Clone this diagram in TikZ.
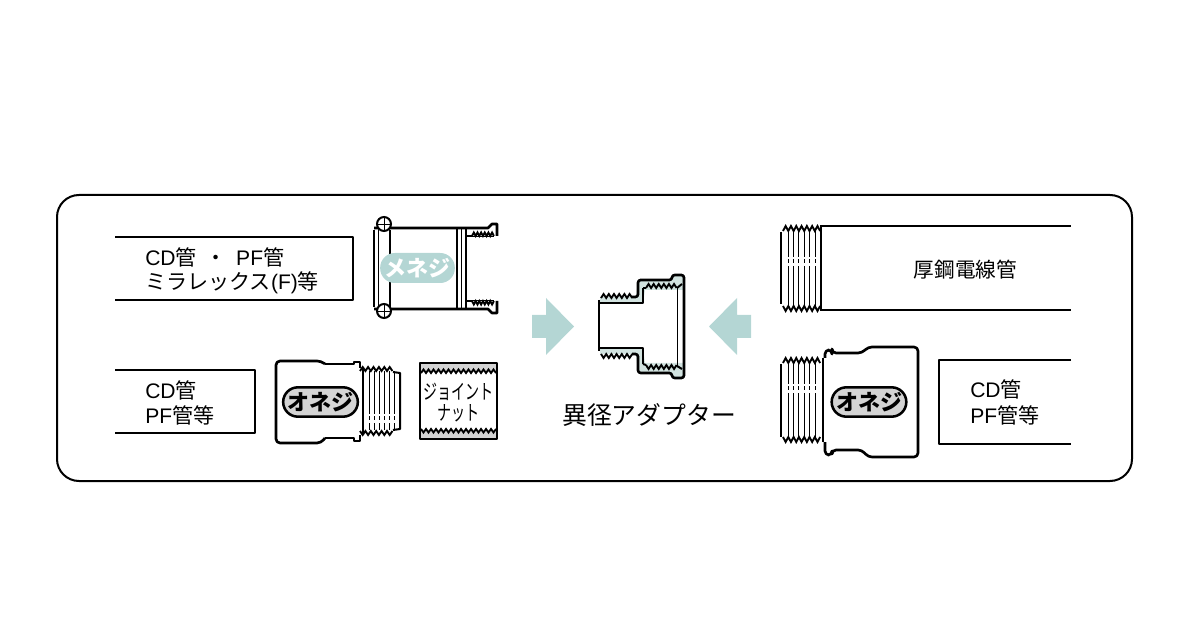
\documentclass[tikz,border=0pt]{standalone}
\usepackage{fontspec}
\usepackage{graphicx}
\setmainfont{Liberation Sans}
\newfontfamily\jp{Noto Sans CJK JP}
\definecolor{teal1}{HTML}{B4D6D4}
\definecolor{teal2}{HTML}{D2E3E0}
\definecolor{gray1}{HTML}{D4D4D4}
\newcommand{\zig}[6][]{\draw[#1] (#2,#3) foreach \i in {1,...,#6} { -- ++(#4/2,#5) -- ++(#4/2,-#5)};}
\newcommand{\threadlines}[4]{\foreach \xx in {#1}{\draw[thinl] (\xx,#2) -- (\xx,#3-4); \draw[thinl] (\xx,#3-2) -- (\xx,#3+2); \draw[thinl] (\xx,#3+5) -- (\xx,#4);}}
\tikzset{
 main/.style={line width=1.5pt,draw=black,line join=round},
 thick2/.style={line width=2pt,draw=black,line join=round},
 thinl/.style={line width=0.65pt,draw=black},
 zz/.style={line width=1.4pt,draw=black,line join=miter},
 lab/.style={inner sep=0pt,anchor=west,font=\fontsize{15.8}{18}\selectfont,text=black},
 pillb/.style={font=\jp\bfseries\fontsize{16.5}{18}\selectfont,inner sep=0pt},
 fat/.style={fill=teal1,draw=none},
}
\begin{document}
\begin{tikzpicture}[x=0.75pt,y=-0.75pt]
\useasboundingbox (0,0) rectangle (1188,641);
\draw[main,rounded corners=16.5pt] (57,195) rectangle (1132,481);
% left top pipe
\draw[main] (115,237) -- (353,237) -- (353,300) -- (115,300);
\node[lab] (t1) at (145,257) {CD{\jp 管}\hspace{6.9pt}{\jp ・}\hspace{6.9pt}PF{\jp 管}};
\node[lab] (t2) at (145,283) {{\jp ミラレックス}(F){\jp 等}};
% female adapter
\draw[thick2] (374,228) -- (465,228) -- (488,228) -- (492,224) -- (497,224) -- (497,236);
\draw[thick2] (374,309) -- (465,309) -- (488,309) -- (492,313) -- (497,313) -- (497,301);
\draw[thick2] (374,230) -- (374,307);
\draw[main] (390,230) -- (390,307);
\draw[thinl] (378,230) -- (378,307);
\draw[main] (457,228) -- (457,309);
\draw[thinl] (461,228) -- (461,309);
\draw[thick2] (466,228) -- (466,309);
\draw[main] (466,236) -- (472,236);
\draw[main] (466,301) -- (472,301);
\zig[zz]{472}{236}{3.65}{-3.5}{6}
\zig[zz]{472}{301}{3.65}{3.5}{6}
\draw[thinl] (472,236.5) -- (494,236.5);
\draw[thinl] (472,300.5) -- (494,300.5);
\foreach \n/\yy in {sa/224,sb/311}{
 \node[circle,draw=black,line width=1.5pt,fill=white,minimum size=10.5pt,inner sep=0pt] (\n) at (384,\yy) {};
 \draw[thinl] (\n.west) -- (\n.east);
 \draw[thinl] (\n.north) -- (\n.south);
}
\node[fat,rounded corners=11pt,minimum width=56pt,minimum height=22.5pt,pillb,text=white,inner sep=0pt] (mn) at (417.5,268) {メネジ};
% left bottom pipe
\draw[main] (115,370) -- (255,370) -- (255,433) -- (115,433);
\node[lab] (t3) at (145,390) {CD{\jp 管}};
\node[lab] (t4) at (145,415) {PF{\jp 管等}};
% male adapter left
\threadlines{369,374,379,384,389,394}{371}{418}{430}
\draw[thick2,rounded corners=3pt] (325,364) -- (321,361) -- (276,361) -- (276,443) -- (321,443) -- (325,438);
\draw[thick2] (325,364) -- (354,364) -- (354,362) -- (360,362) -- (360,368);
\draw[thick2] (325,438) -- (354,438) -- (354,441) -- (360,441) -- (360,435);
\draw[main] (363,368) -- (363,434);
\zig[zz]{360}{371}{5.4}{-4}{6}
\zig[zz]{360}{431}{5.4}{4}{6}
\draw[main] (393,372) -- (400,373) -- (400,429) -- (393,430);
\node[pillb,draw=black,line width=1.9pt,fill=gray1,rounded corners=11pt,minimum width=56pt,minimum height=22pt] (on1) at (320.5,402) {オネジ};
% nut
\fill[gray1] (420,363) rectangle (497,371);
\fill[gray1] (420,431) rectangle (497,439);
\zig[zz]{421}{373}{5}{-3.5}{15}
\zig[zz]{421}{429}{5}{3.5}{15}
\draw[thick2] (420,363) rectangle (497,439);
\node[inner sep=0pt,font=\jp\fontsize{15.5}{16}\selectfont] (nut1) at (458.5,392) {\scalebox{0.68}[1]{ジョイント}};
\node[inner sep=0pt,font=\jp\fontsize{15.5}{16}\selectfont] (nut2) at (458.5,413) {\scalebox{0.68}[1]{ナット}};
% arrows
\fill[teal1] (532,315) -- (546,315) -- (546,298) -- (574,326.5) -- (546,355) -- (546,338) -- (532,338) -- cycle;
\fill[teal1] (751,315) -- (737,315) -- (737,298) -- (709,326.5) -- (737,355) -- (737,338) -- (751,338) -- cycle;
% center adapter
\fill[teal2] (600,303) -- (600,297) -- (636,297) -- (638,281) -- (673,279) -- (673,275) -- (684,275) -- (684,290) -- (645,290) -- (643,303) -- cycle;
\fill[teal2] (600,348) -- (600,354) -- (636,354) -- (638,372) -- (673,373) -- (673,378) -- (684,378) -- (684,363) -- (645,363) -- (643,348) -- cycle;
\zig[zz]{601}{298}{5.2}{-4}{6}
\zig[zz]{601}{354}{5.2}{4}{6}
\draw[thick2,rounded corners=1pt] (599,300) -- (599,351);
\draw[thick2] (599,303) -- (643,303) -- (643,288);
\draw[thick2] (599,348) -- (643,348) -- (643,364);
\draw[thick2,rounded corners=2pt] (632,297) -- (638,297) -- (638,280) -- (672,280) -- (672,275) -- (684,275) -- (684,378) -- (672,378) -- (672,373) -- (638,373) -- (638,354) -- (632,354);
\zig[zz]{646}{288}{5.1}{-4}{6}
\zig[zz]{646}{365}{5.1}{4}{6}
\draw[main] (643,288) -- (646,288);
\draw[main] (643,364) -- (646,365);
\draw[thinl] (677,287) -- (677,367);
\draw[main] (677,288) -- (682,284);
\draw[main] (677,366) -- (682,369);
\node[inner sep=0pt,font=\jp\fontsize{18.6}{20}\selectfont] (ad) at (649,415) {異径アダプター};
% right top pipe
\threadlines{788,793.4,798.8,804.2,809.6,815}{230}{261}{306}
\draw[main] (820,226) -- (1071,226);
\draw[main] (820,310) -- (1071,310);
\draw[main] (821,227) -- (821,310);
\draw[thick2] (781,232) -- (781,304);
\zig[zz]{783}{231}{5.3}{-5}{7}
\zig[zz]{783}{306}{5.3}{5}{7}
\node[inner sep=0pt,font=\jp\fontsize{15.5}{18}\selectfont] (t5) at (965.5,270) {厚鋼電線管};
% right bottom adapter
\threadlines{788,793.4,798.8,804.2,809.6,815}{363}{388}{438}
\draw[thick2] (781,364) -- (781,437);
\zig[zz]{783}{363}{5.3}{-5}{7}
\zig[zz]{783}{437}{5.3}{5}{7}
\draw[main] (823,358) -- (823,442);
\draw[thick2,rounded corners=3pt] (825,358) -- (825,350) -- (832,350) -- (832,353) -- (862,353) -- (868,347) -- (918,347) -- (918,457) -- (868,457) -- (862,450) -- (832,450) -- (832,455) -- (825,455) -- (825,442);
\node[pillb,draw=black,line width=1.9pt,fill=gray1,rounded corners=11pt,minimum width=56pt,minimum height=22pt] (on2) at (869,402) {オネジ};
% right bottom pipe
\draw[main] (1071,360) -- (939,360) -- (939,444) -- (1071,444);
\node[lab] (t6) at (970,389) {CD{\jp 管}};
\node[lab] (t7) at (970,415) {PF{\jp 管等}};
\end{tikzpicture}
\end{document}
